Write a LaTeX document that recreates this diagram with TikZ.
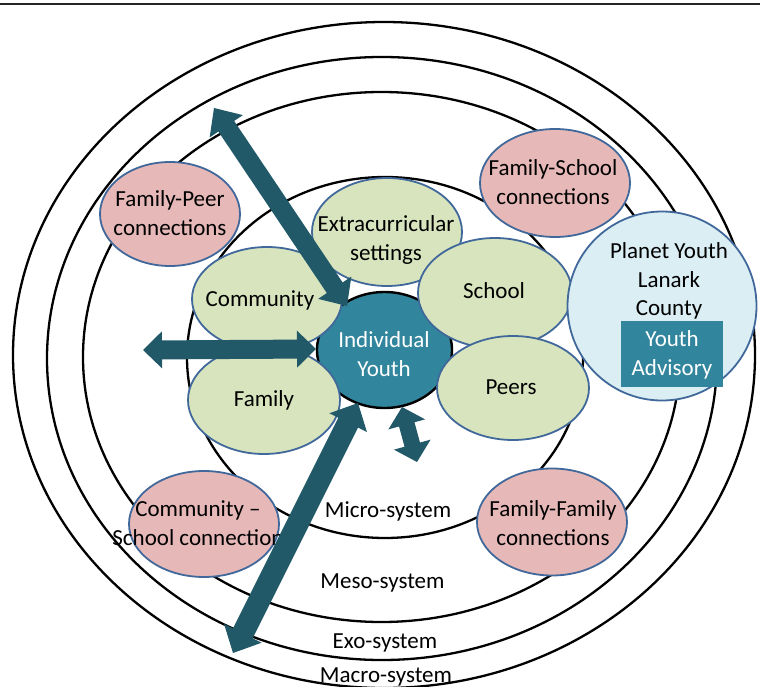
\documentclass[tikz,border=0pt]{standalone}
\usepackage{fontspec}
\setmainfont{Carlito}
\usetikzlibrary{shapes.geometric,calc}
\definecolor{tealf}{HTML}{31859C}
\definecolor{arrowc}{HTML}{215968}
\definecolor{greenf}{HTML}{D7E4BD}
\definecolor{pinkf}{HTML}{E6B9B8}
\definecolor{bluef}{HTML}{DBEEF4}
\definecolor{bordc}{HTML}{41689A}
% #1 tip A, #2 tip B, #3 shaft half width, #4 head half width, #5 head length
\newcommand{\blockarrow}[5]{%
  \coordinate (ha) at ($(#1)!#5pt!(#2)$);
  \coordinate (hb) at ($(#2)!#5pt!(#1)$);
  \fill[arrowc] (#1) -- ($(ha)!#4pt!90:(#2)$) -- ($(ha)!#3pt!90:(#2)$)
    -- ($(hb)!#3pt!-90:(#1)$) -- ($(hb)!#4pt!-90:(#1)$) -- (#2)
    -- ($(hb)!#4pt!90:(#1)$) -- ($(hb)!#3pt!90:(#1)$)
    -- ($(ha)!#3pt!-90:(#2)$) -- ($(ha)!#4pt!-90:(#2)$) -- cycle;}
\tikzset{
  sysell/.style={ellipse, draw=black, line width=2.3pt, inner sep=0pt},
  greenell/.style={ellipse, draw=bordc, line width=1.8pt, fill=greenf, inner sep=0pt},
  pinkell/.style={ellipse, draw=bordc, line width=1.8pt, fill=pinkf, inner sep=0pt},
  youthell/.style={ellipse, draw=black, line width=2.4pt, fill=tealf, inner sep=0pt},
  planetell/.style={circle, draw=bordc, line width=1.8pt, fill=bluef, inner sep=0pt},
  advbox/.style={rectangle, fill=tealf, inner sep=0pt},
  txt/.style={font=\fontsize{23}{28.5}\selectfont, align=center, inner sep=0pt, text=black},
  wtxt/.style={txt, text=white},
}
\begin{document}
\begin{tikzpicture}[x=1pt,y=-1pt]
\useasboundingbox (0,0) rectangle (760,687);
% top rule
\coordinate (ruleL) at (0,4);
\coordinate (ruleR) at (760,4);
\draw[line width=2.5pt, black!85] (ruleL) -- (ruleR);
% system ellipses
\node[sysell, minimum width=742pt, minimum height=666pt] (macro) at (384,355) {};
\node[sysell, minimum width=670pt, minimum height=603pt] (exo) at (382,358.5) {};
\node[sysell, minimum width=597pt, minimum height=530pt] (meso) at (381.5,357) {};
\node[sysell, minimum width=396pt, minimum height=361pt] (micro) at (385,357.5) {};
% system labels
\node[txt, anchor=base] (microlab) at (388,517) {Micro-system};
\node[txt, anchor=base] (mesolab) at (382.5,588) {Meso-system};
\node[txt, anchor=base] (exolab) at (385,648) {Exo-system};
\node[txt, anchor=base] (macrolab) at (386,682) {Macro-system};
% pink connection nodes
\node[pinkell, minimum width=140pt, minimum height=104pt] (fpeer) at (170,214) {};
\node[txt] (fpeert) at (170,213) {Family-Peer\\connections};
\node[pinkell, minimum width=150pt, minimum height=108pt] (fschool) at (555,183) {};
\node[txt] (fschoolt) at (553,182) {Family-School\\connections};
\node[pinkell, minimum width=150pt, minimum height=106pt] (cschool) at (204,524) {};
\node[txt] (cschoolt) at (198,523) {Community --\\School connection};
\node[pinkell, minimum width=150pt, minimum height=107pt] (ffam) at (552,522) {};
\node[txt] (ffamt) at (553,523) {Family-Family\\connections};
% individual youth (under the micro-system ellipses)
\node[youthell, minimum width=135pt, minimum height=116pt] (youth) at (384.5,350) {};
% green micro nodes
\node[greenell, minimum width=150pt, minimum height=108pt] (extra) at (387,232) {};
\node[txt] (extrat) at (386,240) {Extracurricular\\settings};
\node[greenell, minimum width=150pt, minimum height=104pt] (comm) at (267,299) {};
\node[txt] (commt) at (260,300) {Community};
\node[greenell, minimum width=154pt, minimum height=110pt] (school) at (495,293) {};
\node[txt] (schoolt) at (494,291) {School};
\node[greenell, minimum width=152pt, minimum height=108pt] (family) at (264,400) {};
\node[txt] (familyt) at (264,400) {Family};
\node[greenell, minimum width=152pt, minimum height=104pt] (peers) at (513,388) {};
\node[txt] (peerst) at (511,387) {Peers};
\node[wtxt] (youtht) at (384,354) {Individual\\Youth};
% planet youth
\node[planetell, minimum size=189pt] (planet) at (662,306) {};
\node[txt] (planett) at (669,281) {Planet Youth\\Lanark\\County};
\node[advbox, minimum width=102pt, minimum height=66pt] (adv) at (672,354) {};
\node[wtxt] (advt) at (672,355) {Youth\\Advisory};
% arrows
\coordinate (a1s) at (214,108);
\coordinate (a1e) at (347,306);
\coordinate (a2s) at (143,350);
\coordinate (a2e) at (316,349);
\coordinate (a3s) at (358,403);
\coordinate (a3e) at (233,653);
\coordinate (a4s) at (402,407);
\coordinate (a4e) at (417,462);
\blockarrow{a1s}{a1e}{9.5}{20}{22}
\blockarrow{a2s}{a2e}{9.5}{18.5}{19}
\blockarrow{a3s}{a3e}{11}{21}{22}
\blockarrow{a4s}{a4e}{8}{19}{18}
\end{tikzpicture}
\end{document}
